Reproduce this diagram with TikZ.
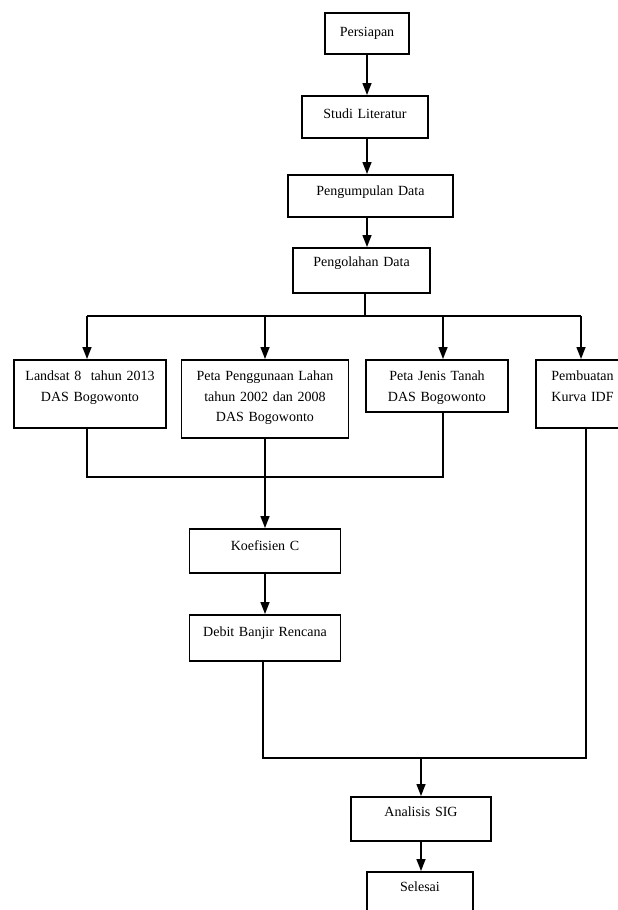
\documentclass[tikz,border=0pt]{standalone}
\usepackage{fontspec}
\setmainfont{Liberation Serif}
\usetikzlibrary{arrows.meta}
\tikzset{
  stepbox/.style={draw, line width=1.5pt, anchor=north, inner xsep=0pt, inner ysep=0pt,
    align=center, text height=21pt, font=\fontsize{14}{20.5}\selectfont},
  arr/.style={line width=1.4pt, -{Triangle[length=12pt,width=9pt]}},
  link/.style={line width=1.4pt}
}
\begin{document}
\begin{tikzpicture}[x=1pt,y=-1pt]
    \useasboundingbox (0,0) rectangle (618,910);
    % main column
    \node[stepbox, text width=84pt, text height=24pt, text depth=17pt] (pers) at (367,12) {Persiapan};
    \node[stepbox, text width=126pt, text height=23pt, text depth=19pt] (studi) at (365,95) {Studi Literatur};
    \node[stepbox, text width=165pt, text depth=21pt] (kump) at (370.5,174) {Pengumpulan Data};
    \node[stepbox, text width=137pt, text height=19pt, text depth=26pt] (olah) at (361.5,247) {Pengolahan Data};
    % data
    \node[stepbox, text width=152pt, text depth=47pt] (landsat) at (90,359) {Landsat 8~ tahun 2013\\DAS Bogowonto};
    \node[stepbox, text width=167pt, text depth=57pt] (lahan) at (265,359) {Peta Penggunaan Lahan\\tahun 2002 dan 2008\\DAS Bogowonto};
    \node[stepbox, text width=142pt, text depth=31pt] (tanah) at (437,359) {Peta Jenis Tanah\\DAS Bogowonto};
    \node[stepbox, text width=93pt, text depth=47pt] (idf) at (582.5,359) {Pembuatan\\Kurva IDF};
    % analysis
    \node[stepbox, text width=151pt, text height=22pt, text depth=22pt] (koef) at (265,528) {Koefisien C};
    \node[stepbox, text width=151pt, text height=22pt, text depth=24pt] (debit) at (265,614) {Debit Banjir Rencana};
    \node[stepbox, text width=140pt, text height=20pt, text depth=24pt] (sig) at (421,796) {Analisis SIG};
    \node[stepbox, text width=106pt, text height=20pt, text depth=24pt] (selesai) at (420,871) {Selesai};
    % arrows top
    \foreach \a/\b in {pers/studi, studi/kump, kump/olah}
      \draw[arr] (\a.south -| pers) -- (\b.north -| pers);
    % split
    \coordinate (split) at (365,316);
    \draw[link] (olah.south -| split) -- (split);
    \draw[link] (87,316) -- (581,316);
    \foreach \n/\x in {landsat/87, lahan/265, tanah/443, idf/581}
      \draw[arr] (\x,316) -- (\x,0 |- \n.north);
    % join
    \coordinate (joinL) at (87,477);
    \coordinate (joinR) at (443,477);
    \draw[link] (landsat.south -| joinL) -- (joinL) -- (joinR) -- (tanah.south -| joinR);
    \draw[arr] (lahan.south) -- (koef.north);
    \draw[arr] (koef.south) -- (debit.north);
    % merge
    \coordinate (mergeL) at (263,758);
    \coordinate (mergeR) at (586,758);
    \draw[link] (debit.south -| mergeL) -- (mergeL) -- (mergeR) -- (idf.south -| mergeR);
    \draw[arr] (sig.north |- mergeL) -- (sig.north);
    \draw[arr] (sig.south) -- (selesai.north -| sig);
\end{tikzpicture}
\end{document}
